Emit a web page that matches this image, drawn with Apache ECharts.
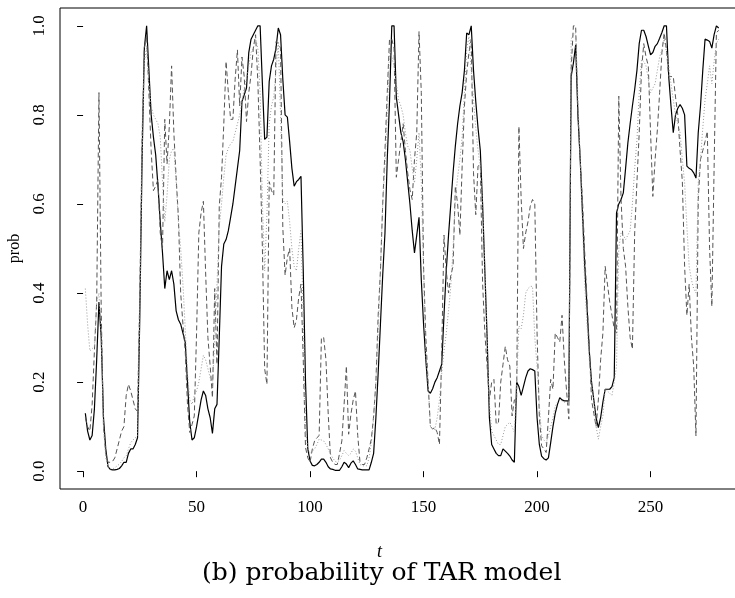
<!DOCTYPE html>
<html><head><meta charset="utf-8">
<script src="https://cdn.jsdelivr.net/npm/echarts@6/dist/echarts.min.js"></script>
<style>html,body{margin:0;padding:0;background:#fff}#c{width:735px;height:598px}</style>
</head><body><div id="c"></div>
<script>
const xTicks = [0, 50, 100, 150, 200, 250];
const yTicks = [0, 0.2, 0.4, 0.6, 0.8, 1.0];
const xLabel = 't';
const yLabel = 'prob';
const caption = '(b) probability of TAR model';

// solid black series, t = 1..280
const solidProb = [
0.13,0.09,0.07,0.08,0.14,0.25,0.38,0.30,0.12,0.05,
0.01,0.004,0.003,0.003,0.004,0.006,0.012,0.02,0.02,0.04,
0.05,0.05,0.06,0.075,0.35,0.7,0.95,1.0,0.9,0.8,
0.75,0.71,0.64,0.56,0.49,0.41,0.45,0.43,0.45,0.42,
0.36,0.34,0.33,0.31,0.29,0.2,0.11,0.07,0.075,0.1,
0.13,0.16,0.18,0.17,0.14,0.12,0.085,0.14,0.15,0.3,
0.46,0.51,0.52,0.54,0.57,0.6,0.64,0.68,0.72,0.83,
0.845,0.86,0.94,0.97,0.98,0.99,1.0,1.0,0.87,0.745,
0.75,0.875,0.91,0.925,0.95,0.995,0.98,0.88,0.8,0.795,
0.74,0.68,0.64,0.65,0.655,0.662,0.45,0.2,0.05,0.023,
0.013,0.012,0.015,0.02,0.027,0.027,0.02,0.01,0.005,0.004,
0.002,0.002,0.002,0.01,0.02,0.016,0.008,0.018,0.023,0.015,
0.005,0.004,0.003,0.003,0.003,0.003,0.02,0.04,0.12,0.22,
0.33,0.44,0.535,0.7,0.83,1.0,1.0,0.84,0.8,0.76,
0.74,0.7,0.65,0.6,0.54,0.49,0.53,0.57,0.43,0.33,
0.25,0.18,0.175,0.185,0.2,0.21,0.225,0.24,0.35,0.45,
0.53,0.6,0.67,0.73,0.78,0.82,0.85,0.9,0.984,0.98,
1.0,0.9,0.83,0.77,0.72,0.6,0.45,0.3,0.12,0.06,
0.05,0.04,0.035,0.035,0.05,0.045,0.04,0.034,0.025,0.02,
0.2,0.19,0.17,0.19,0.21,0.225,0.23,0.228,0.225,0.12,
0.06,0.034,0.028,0.025,0.03,0.064,0.1,0.13,0.15,0.165,
0.16,0.158,0.158,0.158,0.886,0.916,0.957,0.8,0.7,0.58,
0.46,0.37,0.27,0.2,0.16,0.12,0.098,0.12,0.155,0.184,
0.184,0.184,0.19,0.21,0.58,0.6,0.61,0.625,0.68,0.737,
0.78,0.82,0.857,0.9,0.96,0.99,0.99,0.976,0.955,0.935,
0.94,0.954,0.96,0.972,0.985,1.0,1.0,0.886,0.82,0.76,
0.8,0.815,0.823,0.815,0.8,0.685,0.68,0.677,0.67,0.658,
0.76,0.82,0.9,0.97,0.968,0.965,0.95,0.98,1.0,0.995
];

// dashed grey series
const dashedProb = [
0.12,0.1,0.09,0.15,0.27,0.38,0.85,0.36,0.1,0.04,
0.02,0.02,0.022,0.03,0.05,0.07,0.09,0.1,0.17,0.195,
0.18,0.16,0.14,0.134,0.4,0.75,0.95,0.98,0.85,0.72,
0.63,0.64,0.655,0.535,0.5,0.79,0.69,0.775,0.91,0.76,
0.66,0.57,0.4,0.33,0.27,0.15,0.087,0.105,0.124,0.31,
0.535,0.58,0.606,0.445,0.3,0.236,0.165,0.41,0.24,0.595,
0.66,0.78,0.92,0.85,0.79,0.79,0.88,0.946,0.82,0.93,
0.886,0.785,0.85,0.89,0.95,0.98,0.875,0.7,0.5,0.23,
0.195,0.65,0.63,0.62,0.965,0.96,0.95,0.546,0.44,0.48,
0.5,0.367,0.322,0.34,0.39,0.42,0.25,0.053,0.03,0.02,
0.05,0.068,0.075,0.08,0.3,0.3,0.25,0.128,0.03,0.02,
0.015,0.015,0.04,0.068,0.15,0.236,0.083,0.128,0.16,0.18,
0.08,0.02,0.015,0.015,0.03,0.05,0.072,0.124,0.2,0.35,
0.45,0.6,0.72,0.85,0.97,0.97,0.95,0.66,0.7,0.74,
0.78,0.72,0.67,0.632,0.61,0.7,0.76,0.987,0.85,0.46,
0.3,0.2,0.1,0.095,0.098,0.087,0.06,0.27,0.53,0.45,
0.4,0.44,0.46,0.64,0.6,0.53,0.685,0.82,0.894,0.94,
0.97,0.67,0.576,0.685,0.69,0.423,0.31,0.236,0.16,0.2,
0.206,0.105,0.11,0.2,0.24,0.28,0.25,0.236,0.124,0.16,
0.16,0.774,0.61,0.5,0.535,0.56,0.595,0.61,0.6,0.31,
0.124,0.057,0.05,0.042,0.12,0.206,0.184,0.31,0.3,0.29,
0.35,0.25,0.18,0.117,0.9,1.0,1.0,0.8,0.7,0.61,
0.49,0.385,0.28,0.16,0.13,0.1,0.16,0.25,0.31,0.46,
0.42,0.38,0.35,0.32,0.31,0.842,0.61,0.5,0.46,0.37,
0.3,0.274,0.535,0.65,0.76,0.9,0.96,0.93,0.91,0.76,
0.617,0.7,0.767,0.85,0.94,0.984,0.946,0.886,0.886,0.886,
0.84,0.8,0.72,0.65,0.46,0.35,0.42,0.3,0.236,0.079,
0.61,0.7,0.72,0.74,0.763,0.5,0.37,0.685,0.984,0.99
];

// dotted light grey series
const dottedProb = [
0.41,0.33,0.27,0.275,0.28,0.38,0.4,0.3,0.1,0.03,
0.01,0.005,0.005,0.008,0.012,0.016,0.022,0.03,0.034,0.05,
0.064,0.07,0.075,0.08,0.35,0.7,0.92,0.95,0.87,0.82,
0.8,0.79,0.78,0.75,0.65,0.56,0.62,0.7,0.72,0.725,
0.65,0.56,0.5,0.42,0.32,0.22,0.16,0.15,0.17,0.18,
0.2,0.23,0.26,0.25,0.23,0.21,0.19,0.3,0.42,0.55,
0.6,0.66,0.71,0.725,0.735,0.74,0.76,0.78,0.8,0.83,
0.86,0.88,0.91,0.94,0.95,0.97,0.95,0.85,0.6,0.45,
0.576,0.78,0.82,0.84,0.9,0.965,0.8,0.61,0.6,0.606,
0.56,0.5,0.46,0.45,0.5,0.54,0.35,0.09,0.05,0.04,
0.045,0.05,0.06,0.072,0.07,0.068,0.06,0.05,0.038,0.03,
0.022,0.02,0.025,0.035,0.046,0.04,0.035,0.04,0.05,0.045,
0.03,0.015,0.012,0.012,0.012,0.03,0.064,0.12,0.2,0.31,
0.45,0.6,0.685,0.8,0.946,0.93,0.91,0.87,0.834,0.82,
0.8,0.76,0.73,0.72,0.68,0.647,0.7,0.76,0.65,0.45,
0.26,0.2,0.1,0.095,0.094,0.12,0.16,0.22,0.27,0.31,
0.36,0.415,0.5,0.61,0.66,0.7,0.75,0.85,0.946,0.976,
0.9,0.834,0.77,0.72,0.685,0.6,0.46,0.3,0.15,0.09,
0.08,0.07,0.06,0.06,0.08,0.1,0.105,0.11,0.1,0.087,
0.2,0.326,0.32,0.35,0.4,0.41,0.415,0.415,0.3,0.236,
0.15,0.08,0.07,0.064,0.08,0.1,0.12,0.146,0.155,0.16,
0.158,0.155,0.154,0.154,0.97,0.98,0.984,0.834,0.7,0.56,
0.42,0.33,0.25,0.2,0.16,0.1,0.072,0.1,0.124,0.184,
0.18,0.175,0.17,0.2,0.236,0.5,0.535,0.53,0.52,0.53,
0.54,0.6,0.68,0.744,0.85,0.924,0.92,0.91,0.88,0.85,
0.86,0.87,0.9,0.93,0.946,0.97,0.94,0.91,0.87,0.834,
0.8,0.78,0.76,0.7,0.647,0.55,0.46,0.43,0.41,0.4,
0.647,0.7,0.77,0.834,0.87,0.91,0.87,0.92,0.96,0.97
];

const toPairs = arr => arr.map((v, i) => [i + 1, v]);
const serif = 'Liberation Serif';

const chart = echarts.init(document.getElementById('c'), null, {renderer: 'canvas'});
chart.setOption({
  animation: false,
  backgroundColor: '#fff',
  grid: {left: 60, top: 8, width: 684, height: 481, show: true, borderColor: '#000', borderWidth: 1,
         backgroundColor: 'transparent', containLabel: false, outerBoundsMode: 'none'},
  xAxis: {
    type: 'value', min: -10.16, max: 291.16,
    axisLine: {show: false},
    splitLine: {show: false},
    axisTick: {show: true, inside: false, length: 6, lineStyle: {color: '#000', width: 1}, customValues: xTicks},
    axisLabel: {color: '#000', fontFamily: serif, fontSize: 17, margin: 10, customValues: xTicks, formatter: v => String(v)}
  },
  yAxis: {
    type: 'value', min: -0.04, max: 1.04,
    name: yLabel, nameLocation: 'middle', nameGap: 37, nameRotate: 90,
    nameTextStyle: {color: '#000', fontFamily: serif, fontSize: 16},
    axisLine: {show: false},
    splitLine: {show: false},
    axisTick: {show: true, inside: false, length: 6, lineStyle: {color: '#000', width: 1}, customValues: yTicks},
    axisLabel: {color: '#000', fontFamily: serif, fontSize: 17, margin: 12, rotate: 90, customValues: yTicks, formatter: v => v.toFixed(1)}
  },
  series: [
    {type: 'line', data: toPairs(solidProb), showSymbol: false, symbol: 'none', lineStyle: {color: '#000', width: 1.2}, z: 3},
    {type: 'line', data: toPairs(dashedProb), showSymbol: false, symbol: 'none', lineStyle: {color: '#555', width: 1, type: [5, 3]}, z: 4},
    {type: 'line', data: toPairs(dottedProb), showSymbol: false, symbol: 'none', lineStyle: {color: '#999', width: 1, type: [1, 2]}, z: 5}
  ],
  graphic: [
    {type: 'text', left: 377, top: 543, style: {text: xLabel, fontFamily: serif, fontStyle: 'italic', fontSize: 18, fill: '#000'}},
    {type: 'text', left: 202, top: 561, style: {text: caption, fontFamily: 'DejaVu Serif', fontSize: 25, fill: '#000'}}
  ]
});
</script></body></html>
